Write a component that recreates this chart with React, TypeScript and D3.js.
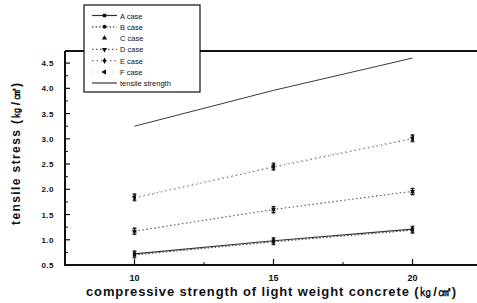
import React from "react";
import * as d3 from "d3";

const strengths = [10, 15, 20];
const tensileStrength = [3.25, 3.96, 4.6];
const caseA = [0.72, 0.98, 1.21];
const caseB = [0.7, 0.96, 1.19];
const caseC = [1.17, 1.59, 1.95];
const caseD = [1.17, 1.6, 1.96];
const caseE = [1.83, 2.44, 3.0];
const caseF = [1.85, 2.46, 3.02];
const yTicks = [0.5, 1.0, 1.5, 2.0, 2.5, 3.0, 3.5, 4.0, 4.5];
const xTicks = [10, 15, 20];

const series = [
	{ name: "A case", values: caseA, dash: "none", marker: "square", color: "#333" },
	{ name: "B case", values: caseB, dash: "1.5,2", marker: "circle", color: "#444" },
	{ name: "C case", values: caseC, dash: "none", marker: "triangle", color: "#333", noLine: true },
	{ name: "D case", values: caseD, dash: "1.5,2.5", marker: "triangleDown", color: "#555" },
	{ name: "E case", values: caseE, dash: "1.5,3", marker: "diamond", color: "#777" },
	{ name: "F case", values: caseF, dash: "1,4", marker: "triangleLeft", color: "#bbb" },
];

const symbolFor: Record<string, d3.SymbolType> = {
	square: d3.symbolSquare,
	circle: d3.symbolCircle,
	triangle: d3.symbolTriangle,
	triangleDown: d3.symbolTriangle,
	diamond: d3.symbolDiamond,
	triangleLeft: d3.symbolTriangle,
};
const rotFor: Record<string, number> = { triangleDown: 180, triangleLeft: -90 };

export default function App() {
	const width = 477;
	const height = 303;
	const x = d3.scaleLinear().domain([7.5, 22.5]).range([65, 482]);
	const y = d3.scaleLinear().domain([0.5, 4.74]).range([265, 51]);
	const font = "'Liberation Sans', Arial, sans-serif";

	const line = d3
		.line<number>()
		.x((_, i) => x(strengths[i]))
		.y((d) => y(d));

	const minorY = d3.range(0.75, 4.74, 0.5);
	const minorX = [12.5, 17.5];

	return (
		<svg width={width} height={height} style={{ position: "absolute", left: 0, top: 0 }}>
			<rect width={width} height={height} fill="#fff" />
			{/* frame */}
			<line x1={65} x2={477} y1={51} y2={51} stroke="#111" strokeWidth={2} />
			<line x1={65} x2={65} y1={51} y2={266} stroke="#111" strokeWidth={2} />
			<line x1={64} x2={477} y1={265} y2={265} stroke="#111" strokeWidth={2} />

			{/* y ticks */}
			{yTicks.map((t) => (
				<g key={"y" + t}>
					<line x1={65} x2={70} y1={y(t)} y2={y(t)} stroke="#111" strokeWidth={1.2} />
					<text
						x={54}
						y={y(t) + 3}
						textAnchor="end"
						fontFamily={font}
						fontWeight="bold"
						fontSize={8}
						letterSpacing={0.5}
						fill="#111"
					>
						{t.toFixed(1)}
					</text>
				</g>
			))}
			{minorY.map((t) => (
				<line key={"my" + t} x1={65} x2={68} y1={y(t)} y2={y(t)} stroke="#111" strokeWidth={1} />
			))}

			{/* x ticks */}
			{xTicks.map((t) => (
				<g key={"x" + t}>
					<line x1={x(t)} x2={x(t)} y1={265} y2={259} stroke="#111" strokeWidth={1.2} />
					<text
						x={x(t)}
						y={281}
						textAnchor="middle"
						fontFamily={font}
						fontWeight="bold"
						fontSize={9}
						fill="#111"
					>
						{t}
					</text>
				</g>
			))}
			{minorX.map((t) => (
				<line key={"mx" + t} x1={x(t)} x2={x(t)} y1={265} y2={262} stroke="#111" strokeWidth={1} />
			))}

			{/* tensile strength */}
			<path d={line(tensileStrength) ?? ""} fill="none" stroke="#222" strokeWidth={0.9} />

			{/* cases */}
			{series.map((s) => (
				<g key={s.name}>
					{!s.noLine && (
						<path
							d={line(s.values) ?? ""}
							fill="none"
							stroke={s.color}
							strokeWidth={1.1}
							strokeDasharray={s.dash === "none" ? undefined : s.dash}
						/>
					)}
					{s.values.map((v, i) => (
						<g key={i} transform={`translate(${x(strengths[i])},${y(v)})`}>
							<line x1={0} x2={0} y1={-3} y2={3} stroke="#111" strokeWidth={1} />
							<line x1={-1.8} x2={1.8} y1={-3} y2={-3} stroke="#111" strokeWidth={1} />
							<line x1={-1.8} x2={1.8} y1={3} y2={3} stroke="#111" strokeWidth={1} />
							<path
								d={d3.symbol(symbolFor[s.marker], 10)() ?? ""}
								transform={`rotate(${rotFor[s.marker] ?? 0})`}
								fill="#111"
							/>
						</g>
					))}
				</g>
			))}

			{/* legend */}
			<rect x={84} y={5} width={116} height={87} fill="#fff" stroke="#111" strokeWidth={1.2} />
			{series.map((s, i) => {
				const ly = 15.5 + i * 11.3;
				return (
					<g key={"lg" + s.name}>
						{!s.noLine && (
							<line
								x1={92}
								x2={117}
								y1={ly}
								y2={ly}
								stroke={s.color}
								strokeWidth={1.2}
								strokeDasharray={s.dash === "none" ? undefined : s.dash}
							/>
						)}
						<path
							d={d3.symbol(symbolFor[s.marker], 12)() ?? ""}
							transform={`translate(104.5,${ly}) rotate(${rotFor[s.marker] ?? 0})`}
							fill="#111"
						/>
						<text x={120} y={ly + 3} fontFamily={font} fontSize={7.5} fill="#111">
							{s.name}
						</text>
					</g>
				);
			})}
			<line x1={92} x2={117} y1={83} y2={83} stroke="#111" strokeWidth={1} />
			<text x={120} y={86} fontFamily={font} fontSize={7.5} fill="#111">
				tensile strength
			</text>

			{/* axis titles */}
			<text
				x={271}
				y={296}
				textAnchor="middle"
				fontFamily={font}
				fontWeight="bold"
				fontSize={13}
				textLength={370}
				lengthAdjust="spacing"
				fill="#111"
			>
				compressive strength of light weight concrete (㎏/㎠)
			</text>
			<text
				transform="translate(20,154) rotate(-90)"
				textAnchor="middle"
				fontFamily={font}
				fontWeight="bold"
				fontSize={12}
				textLength={142}
				lengthAdjust="spacing"
				fill="#111"
			>
				tensile stress (㎏/㎠)
			</text>
		</svg>
	);
}
